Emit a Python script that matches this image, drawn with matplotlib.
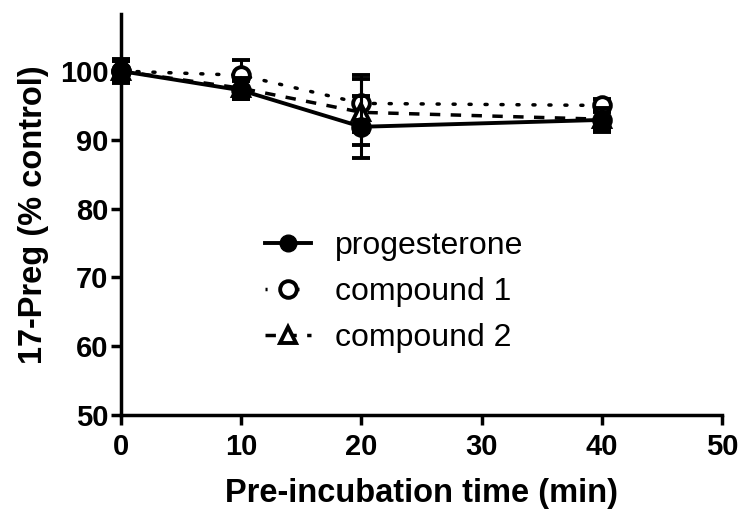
import matplotlib
matplotlib.use("Agg")
from matplotlib import pyplot as plt
from matplotlib.lines import Line2D

plt.rcParams['font.family'] = ['Liberation Sans', 'DejaVu Sans']

# data
time = [0, 10, 20, 40]
prog = [100, 97.2, 91.9, 92.9]
prog_err = [1.8, 1.3, 4.5, 1.8]
c1 = [100, 99.4, 95.3, 95.0]
c1_err = [1.5, 2.2, 4.1, 1.0]
c2 = [100, 97.5, 94.0, 93.0]
c2_err = [1.5, 1.5, 4.8, 1.5]

fig = plt.figure(figsize=(7.41, 5.12), dpi=100)
ax = fig.add_axes([0.1633, 0.1895, 0.8111, 0.7832])

common = dict(color='black', ecolor='black', elinewidth=2.2, capsize=6.5, capthick=2.2,
              markersize=12, markeredgewidth=2.8, clip_on=False)
ax.errorbar(time, c1, yerr=c1_err, fmt='o', linestyle=(0, (0.6, 4)), linewidth=2.5,
            dash_capstyle='round', markerfacecolor='white', zorder=3, **common)
ax.errorbar(time, c2, yerr=c2_err, fmt='^', linestyle=(0, (3, 3)), linewidth=2.5,
            markerfacecolor='white', zorder=4, **common)
ax.errorbar(time, prog, yerr=prog_err, fmt='o', linestyle='-', linewidth=2.8,
            markerfacecolor='black', zorder=5, **common)

ax.set_xlim(0, 50)
ax.set_ylim(50, 108.3)
ax.set_xticks(range(0, 51, 10))
ax.set_yticks(range(50, 101, 10))
for s in ['top', 'right']:
    ax.spines[s].set_visible(False)
for s in ['left', 'bottom']:
    ax.spines[s].set_linewidth(2.5)
ax.tick_params(width=2.5, length=7, labelsize=21)
ax.tick_params(axis='x', pad=6)
ax.tick_params(axis='y', pad=2)
for lab in ax.get_xticklabels() + ax.get_yticklabels():
    lab.set_fontweight('bold')

ax.set_xlabel('Pre-incubation time (min)', fontsize=23.5, fontweight='bold', labelpad=12)
ax.set_ylabel('17-Preg (% control)', fontsize=23.5, fontweight='bold', labelpad=8)

handles = [
    Line2D([], [], color='black', linewidth=2.8, marker='o', markersize=12,
           markerfacecolor='black'),
    Line2D([], [], color='black', linewidth=2.5, linestyle=(0, (0.6, 4)), marker='o',
           markersize=12, markeredgewidth=2.8, markerfacecolor='white'),
    Line2D([], [], color='black', linewidth=2.5, linestyle=(0, (3, 3)), marker='^',
           markersize=12, markeredgewidth=2.8, markerfacecolor='white'),
]
labels = ['progesterone', 'compound 1', 'compound 2']
ax.legend(handles, labels, frameon=False, loc='center left',
          bbox_to_anchor=(0.357, 0.429), bbox_transform=fig.transFigure,
          borderpad=0, borderaxespad=0, fontsize=23, handlelength=1.45,
          handletextpad=0.75, labelspacing=0.5)

plt.savefig('out.png', dpi=100)
